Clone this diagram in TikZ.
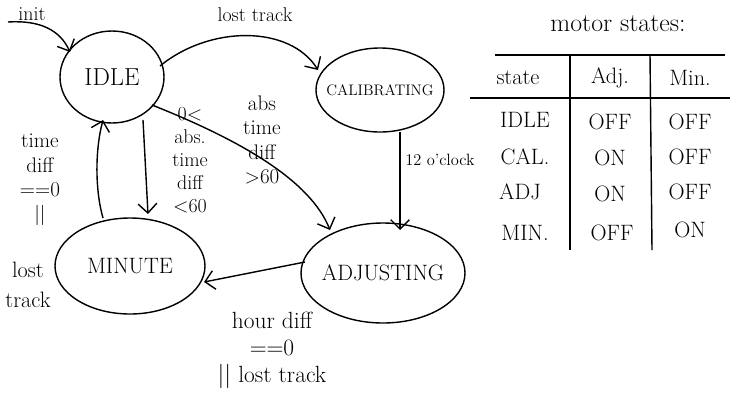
\documentclass[tikz,border=0pt]{standalone}
\usepackage{fontspec}
\usetikzlibrary{arrows.meta}
\newcommand{\fs}[1]{\fontsize{#1}{\fpeval{1.15*#1}}\selectfont}
\begin{document}
\begin{tikzpicture}[x=0.03cm,y=-0.03cm,
  ar/.style={very thick,-{Straight Barb[length=8pt]}},
  lb/.style={font=\fs{17},align=center,inner sep=1pt},
  ln/.style={very thick}]
\useasboundingbox (0,0) rectangle (736,414);
\fill[white] (0,0) rectangle (736,414);
\draw[very thick] (112,77) ellipse [x radius=52, y radius=46];
\node[lb,font=\fs{21}] (idle) at (112,77) {IDLE};
\draw[very thick] (380,90) ellipse [x radius=64, y radius=42];
\node[lb,font=\fs{13}] (cal) at (380,90) {CALIBRATING};
\draw[very thick] (383,273) ellipse [x radius=82, y radius=50];
\node[lb,font=\fs{19}] (adj) at (383,273) {ADJUSTING};
\draw[very thick] (130,266) ellipse [x radius=75, y radius=48];
\node[lb,font=\fs{19}] (min) at (130,266) {MINUTE};
\coordinate (i0) at (8,22);
\coordinate (i1) at (70,52);
\draw[ar] (i0) .. controls (40,20) and (60,30) .. (i1);
\node[lb] (linit) at (32,14) {init};
\coordinate (a1) at (160,66);
\coordinate (a2) at (318,70);
\draw[ar] (a1) .. controls (210,25) and (290,25) .. (a2);
\node[lb] (l1) at (255,15) {lost track};
\coordinate (b1) at (400,132);
\coordinate (b2) at (400,230);
\draw[ar] (b1) -- (b2);
\node[lb,font=\fs{14}] (l2) at (440,160) {12 o'clock};
\coordinate (c1) at (152,105);
\coordinate (c2) at (330,230);
\draw[ar] (c1) .. controls (240,140) and (310,180) .. (c2);
\node[lb,font=\fs{18}] (l3) at (262,140) {abs\\time\\diff\\$>$60};
\coordinate (d1) at (143,120);
\coordinate (d2) at (148,214);
\draw[ar] (d1) -- (d2);
\node[lb,font=\fs{17}] (l4) at (190,160) {0$<$\\abs.\\time\\diff\\$<$60};
\coordinate (e1) at (103,218);
\coordinate (e2) at (103,120);
\draw[ar] (e1) .. controls (95,190) and (95,150) .. (e2);
\node[lb,font=\fs{18}] (l5) at (40,180) {time\\diff\\==0\\$||$};
\node[lb,font=\fs{19}] (l5b) at (28,285) {lost\\[4pt]track};
\coordinate (f1) at (305,262);
\coordinate (f2) at (204,282);
\draw[ar] (f1) -- (f2);
\node[lb,font=\fs{20}] (l6) at (272,350) {hour diff\\==0\\$||$ lost track};
% table
\node[lb,font=\fs{22}] (tt) at (618,24) {motor states:};
\draw[ln] (495,55) -- (725,55);
\draw[ln] (470,98) -- (730,98);
\draw[ln] (570,55) -- (570,250);
\draw[ln] (650,55) -- (652,250);
\tikzset{tc/.style={lb,font=\fs{19}}}
\node[tc] (h1) at (518,78) {state};
\node[tc] (h2) at (610,78) {Adj.};
\node[tc] (h3) at (690,78) {Min.};
\node[tc] (r1) at (525,120) {IDLE};
\node[tc] (r1b) at (610,122) {OFF};
\node[tc] (r1c) at (690,122) {OFF};
\node[tc] (r2) at (525,157) {CAL.};
\node[tc] (r2b) at (610,158) {ON};
\node[tc] (r2c) at (690,157) {OFF};
\node[tc] (r3) at (520,192) {ADJ};
\node[tc] (r3b) at (610,194) {ON};
\node[tc] (r3c) at (690,192) {OFF};
\node[tc] (r4) at (525,233) {MIN.};
\node[tc] (r4b) at (612,233) {OFF};
\node[tc] (r4c) at (690,230) {ON};
\end{tikzpicture}
\end{document}
